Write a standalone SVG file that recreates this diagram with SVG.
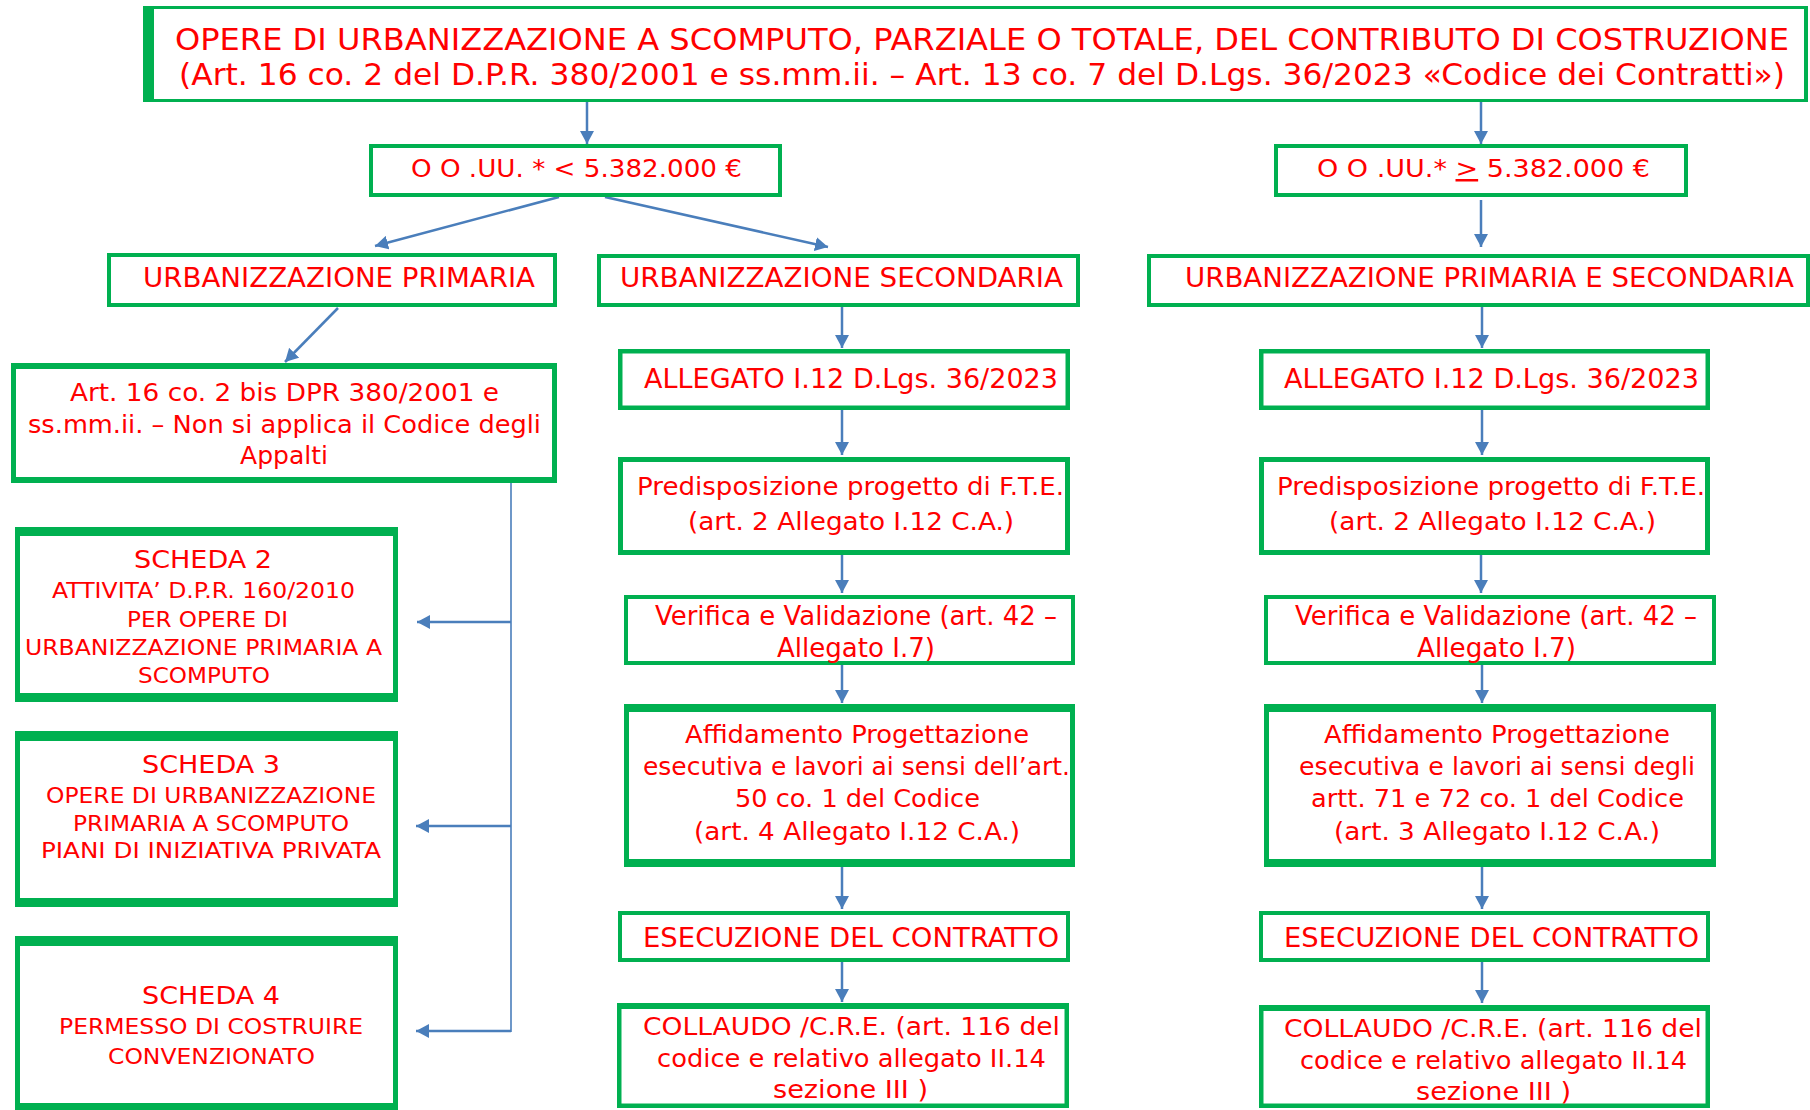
<svg xmlns="http://www.w3.org/2000/svg" width="1810" height="1110" viewBox="0 0 1810 1110">
<style>
.g{fill:#00B050}
.w{fill:#FFFFFF}
.t{font-family:"DejaVu Sans",Verdana,sans-serif;fill:#FF0000}
.c{stroke:#4A7EBB;stroke-width:2.5;fill:none}
.c1{stroke:#4A7EBB;stroke-width:1.6;fill:none}
</style>
<defs>
<marker id="ah" viewBox="0 0 13 14" refX="13" refY="7" markerWidth="13" markerHeight="14" markerUnits="userSpaceOnUse" orient="auto">
<path d="M0,0 L13,7 L0,14 z" fill="#4A7EBB"/>
</marker>
</defs>
<rect x="0" y="0" width="1810" height="1110" fill="#FFFFFF"/>

<g id="connectors">
<line class="c" x1="587" y1="102" x2="587" y2="144" marker-end="url(#ah)"/>
<line class="c" x1="1481" y1="102" x2="1481" y2="144" marker-end="url(#ah)"/>
<line class="c" x1="559" y1="197" x2="375" y2="246" marker-end="url(#ah)"/>
<line class="c" x1="605" y1="197" x2="828" y2="247" marker-end="url(#ah)"/>
<line class="c" x1="1481" y1="200" x2="1481" y2="247" marker-end="url(#ah)"/>
<line class="c" x1="338" y1="308" x2="285" y2="362" marker-end="url(#ah)"/>
<line class="c" x1="842" y1="307" x2="842" y2="348" marker-end="url(#ah)"/>
<line class="c" x1="842" y1="410" x2="842" y2="455" marker-end="url(#ah)"/>
<line class="c" x1="842" y1="555" x2="842" y2="593" marker-end="url(#ah)"/>
<line class="c" x1="842" y1="665" x2="842" y2="703" marker-end="url(#ah)"/>
<line class="c" x1="842" y1="867" x2="842" y2="909" marker-end="url(#ah)"/>
<line class="c" x1="842" y1="962" x2="842" y2="1002" marker-end="url(#ah)"/>
<line class="c" x1="1482" y1="307" x2="1482" y2="348" marker-end="url(#ah)"/>
<line class="c" x1="1482" y1="410" x2="1482" y2="455" marker-end="url(#ah)"/>
<line class="c" x1="1481" y1="555" x2="1481" y2="593" marker-end="url(#ah)"/>
<line class="c" x1="1482" y1="665" x2="1482" y2="703" marker-end="url(#ah)"/>
<line class="c" x1="1482" y1="867" x2="1482" y2="909" marker-end="url(#ah)"/>
<line class="c" x1="1482" y1="962" x2="1482" y2="1003" marker-end="url(#ah)"/>
<line class="c1" x1="511" y1="483" x2="511" y2="1032"/>
<line class="c" x1="511" y1="622" x2="417" y2="622" marker-end="url(#ah)"/>
<line class="c" x1="511" y1="826" x2="416" y2="826" marker-end="url(#ah)"/>
<line class="c" x1="511" y1="1031" x2="416" y2="1031" marker-end="url(#ah)"/>
</g>

<g id="title">
<rect class="g" x="143" y="6" width="1665" height="96"/>
<rect class="w" x="154" y="9" width="1650" height="90"/>
<text class="t" font-size="30" x="175" y="50" textLength="1614" lengthAdjust="spacingAndGlyphs">OPERE DI URBANIZZAZIONE A SCOMPUTO, PARZIALE O TOTALE, DEL CONTRIBUTO DI COSTRUZIONE</text>
<text class="t" font-size="30" x="179" y="85" textLength="1606" lengthAdjust="spacingAndGlyphs">(Art. 16 co. 2 del D.P.R. 380/2001 e ss.mm.ii. – Art. 13 co. 7 del D.Lgs. 36/2023 «Codice dei Contratti»)</text>
</g>

<g id="oouu-low">
<rect class="g" x="369" y="144" width="413" height="53"/>
<rect class="w" x="373" y="148" width="405" height="45"/>
<text class="t" font-size="25" x="411" y="177" textLength="331" lengthAdjust="spacingAndGlyphs">O O .UU. * &lt; 5.382.000 €</text>
</g>

<g id="oouu-high">
<rect class="g" x="1274" y="144" width="414" height="53"/>
<rect class="w" x="1278" y="148" width="406" height="45"/>
<text class="t" font-size="25" x="1317" y="177" textLength="333" lengthAdjust="spacingAndGlyphs">O O .UU.* <tspan text-decoration="underline">&gt;</tspan> 5.382.000 €</text>
</g>

<g id="urb-primaria">
<rect class="g" x="107" y="253" width="450" height="54"/>
<rect class="w" x="111" y="257" width="442" height="46"/>
<text class="t" font-size="26" x="143" y="287" textLength="392" lengthAdjust="spacingAndGlyphs">URBANIZZAZIONE PRIMARIA</text>
</g>

<g id="urb-secondaria">
<rect class="g" x="597" y="254" width="483" height="53"/>
<rect class="w" x="601" y="258" width="475" height="45"/>
<text class="t" font-size="26" x="620" y="287" textLength="443" lengthAdjust="spacingAndGlyphs">URBANIZZAZIONE SECONDARIA</text>
</g>

<g id="urb-prim-sec">
<rect class="g" x="1147" y="254" width="663" height="53"/>
<rect class="w" x="1151" y="258" width="655" height="45"/>
<text class="t" font-size="26" x="1185" y="287" textLength="609" lengthAdjust="spacingAndGlyphs">URBANIZZAZIONE PRIMARIA E SECONDARIA</text>
</g>

<g id="art16">
<rect class="g" x="11" y="363" width="546" height="120"/>
<rect class="w" x="16" y="369" width="536" height="108"/>
<text class="t" font-size="24" x="70" y="401" textLength="429" lengthAdjust="spacingAndGlyphs">Art. 16 co. 2 bis DPR 380/2001 e</text>
<text class="t" font-size="24" x="28" y="433" textLength="513" lengthAdjust="spacingAndGlyphs">ss.mm.ii. – Non si applica il Codice degli</text>
<text class="t" font-size="24" x="240" y="464" textLength="88" lengthAdjust="spacingAndGlyphs">Appalti</text>
</g>

<g id="scheda2">
<rect class="g" x="15" y="527" width="383" height="175"/>
<rect class="w" x="20" y="536" width="373" height="157"/>
<text class="t" font-size="25" x="134" y="568" textLength="138" lengthAdjust="spacingAndGlyphs">SCHEDA 2</text>
<text class="t" font-size="21.5" x="52" y="598" textLength="303" lengthAdjust="spacingAndGlyphs">ATTIVITA’ D.P.R. 160/2010</text>
<text class="t" font-size="21.5" x="127" y="627" textLength="161" lengthAdjust="spacingAndGlyphs">PER OPERE DI</text>
<text class="t" font-size="21.5" x="25" y="655" textLength="357" lengthAdjust="spacingAndGlyphs">URBANIZZAZIONE PRIMARIA A</text>
<text class="t" font-size="21.5" x="138" y="683" textLength="132" lengthAdjust="spacingAndGlyphs">SCOMPUTO</text>
</g>

<g id="scheda3">
<rect class="g" x="15" y="731" width="383" height="176"/>
<rect class="w" x="20" y="741" width="373" height="157"/>
<text class="t" font-size="25" x="142" y="773" textLength="138" lengthAdjust="spacingAndGlyphs">SCHEDA 3</text>
<text class="t" font-size="22" x="46" y="803" textLength="330" lengthAdjust="spacingAndGlyphs">OPERE DI URBANIZZAZIONE</text>
<text class="t" font-size="22" x="73" y="831" textLength="276" lengthAdjust="spacingAndGlyphs">PRIMARIA A SCOMPUTO</text>
<text class="t" font-size="22" x="41" y="858" textLength="340" lengthAdjust="spacingAndGlyphs">PIANI DI INIZIATIVA PRIVATA</text>
</g>

<g id="scheda4">
<rect class="g" x="15" y="936" width="383" height="174"/>
<rect class="w" x="20" y="946" width="373" height="157"/>
<text class="t" font-size="25" x="142" y="1004" textLength="138" lengthAdjust="spacingAndGlyphs">SCHEDA 4</text>
<text class="t" font-size="22" x="59" y="1034" textLength="304" lengthAdjust="spacingAndGlyphs">PERMESSO DI COSTRUIRE</text>
<text class="t" font-size="22" x="108" y="1064" textLength="207" lengthAdjust="spacingAndGlyphs">CONVENZIONATO</text>
</g>

<g id="allegato-l">
<rect class="g" x="618" y="349" width="452" height="61"/>
<rect class="w" x="622.5" y="353.5" width="443" height="52"/>
<text class="t" font-size="26" x="644" y="388" textLength="414" lengthAdjust="spacingAndGlyphs">ALLEGATO I.12 D.Lgs. 36/2023</text>
</g>

<g id="allegato-r">
<rect class="g" x="1259" y="349" width="451" height="61"/>
<rect class="w" x="1263.5" y="353.5" width="442" height="52"/>
<text class="t" font-size="26" x="1284" y="388" textLength="415" lengthAdjust="spacingAndGlyphs">ALLEGATO I.12 D.Lgs. 36/2023</text>
</g>

<g id="fte-l">
<rect class="g" x="618" y="457" width="452" height="98"/>
<rect class="w" x="623" y="462" width="442" height="88"/>
<text class="t" font-size="25" x="637" y="495" textLength="427" lengthAdjust="spacingAndGlyphs">Predisposizione progetto di F.T.E.</text>
<text class="t" font-size="25" x="688" y="530" textLength="326" lengthAdjust="spacingAndGlyphs">(art. 2 Allegato I.12 C.A.)</text>
</g>

<g id="fte-r">
<rect class="g" x="1259" y="457" width="451" height="98"/>
<rect class="w" x="1264" y="462" width="441" height="88"/>
<text class="t" font-size="25" x="1277" y="495" textLength="428" lengthAdjust="spacingAndGlyphs">Predisposizione progetto di F.T.E.</text>
<text class="t" font-size="25" x="1329" y="530" textLength="327" lengthAdjust="spacingAndGlyphs">(art. 2 Allegato I.12 C.A.)</text>
</g>

<g id="verifica-l">
<rect class="g" x="624" y="595" width="451" height="70"/>
<rect class="w" x="628" y="599" width="443" height="62"/>
<text class="t" font-size="26" x="655" y="625" textLength="402" lengthAdjust="spacingAndGlyphs">Verifica e Validazione (art. 42 –</text>
<text class="t" font-size="26" x="777" y="657" textLength="158" lengthAdjust="spacingAndGlyphs">Allegato I.7)</text>
</g>

<g id="verifica-r">
<rect class="g" x="1264" y="595" width="452" height="70"/>
<rect class="w" x="1268" y="599" width="444" height="62"/>
<text class="t" font-size="26" x="1295" y="625" textLength="402" lengthAdjust="spacingAndGlyphs">Verifica e Validazione (art. 42 –</text>
<text class="t" font-size="26" x="1417" y="657" textLength="159" lengthAdjust="spacingAndGlyphs">Allegato I.7)</text>
</g>

<g id="affidamento-l">
<rect class="g" x="624" y="704" width="451" height="163"/>
<rect class="w" x="629" y="712" width="441" height="147"/>
<text class="t" font-size="25" x="685" y="743" textLength="344" lengthAdjust="spacingAndGlyphs">Affidamento Progettazione</text>
<text class="t" font-size="25" x="643" y="775" textLength="427" lengthAdjust="spacingAndGlyphs">esecutiva e lavori ai sensi dell’art.</text>
<text class="t" font-size="25" x="735" y="807" textLength="245" lengthAdjust="spacingAndGlyphs">50 co. 1 del Codice</text>
<text class="t" font-size="25" x="694" y="840" textLength="326" lengthAdjust="spacingAndGlyphs">(art. 4 Allegato I.12 C.A.)</text>
</g>

<g id="affidamento-r">
<rect class="g" x="1264" y="704" width="452" height="163"/>
<rect class="w" x="1269" y="712" width="442" height="147"/>
<text class="t" font-size="25" x="1324" y="743" textLength="346" lengthAdjust="spacingAndGlyphs">Affidamento Progettazione</text>
<text class="t" font-size="25" x="1299" y="775" textLength="396" lengthAdjust="spacingAndGlyphs">esecutiva e lavori ai sensi degli</text>
<text class="t" font-size="25" x="1311" y="807" textLength="373" lengthAdjust="spacingAndGlyphs">artt. 71 e 72 co. 1 del Codice</text>
<text class="t" font-size="25" x="1334" y="840" textLength="326" lengthAdjust="spacingAndGlyphs">(art. 3 Allegato I.12 C.A.)</text>
</g>

<g id="esecuzione-l">
<rect class="g" x="618" y="911" width="452" height="51"/>
<rect class="w" x="622" y="915" width="444" height="43"/>
<text class="t" font-size="26" x="643" y="947" textLength="416" lengthAdjust="spacingAndGlyphs">ESECUZIONE DEL CONTRATTO</text>
</g>

<g id="esecuzione-r">
<rect class="g" x="1259" y="911" width="451" height="51"/>
<rect class="w" x="1263" y="915" width="443" height="43"/>
<text class="t" font-size="26" x="1284" y="947" textLength="415" lengthAdjust="spacingAndGlyphs">ESECUZIONE DEL CONTRATTO</text>
</g>

<g id="collaudo-l">
<rect class="g" x="617" y="1003" width="452" height="105"/>
<rect class="w" x="621.5" y="1009" width="443" height="94.5"/>
<text class="t" font-size="25" x="643" y="1035" textLength="417" lengthAdjust="spacingAndGlyphs">COLLAUDO /C.R.E. (art. 116 del</text>
<text class="t" font-size="25" x="657" y="1067" textLength="389" lengthAdjust="spacingAndGlyphs">codice e relativo allegato II.14</text>
<text class="t" font-size="25" x="773" y="1098" textLength="155" lengthAdjust="spacingAndGlyphs">sezione III )</text>
</g>

<g id="collaudo-r">
<rect class="g" x="1259" y="1005" width="451" height="103"/>
<rect class="w" x="1263.5" y="1011" width="442" height="92.5"/>
<text class="t" font-size="25" x="1284" y="1037" textLength="418" lengthAdjust="spacingAndGlyphs">COLLAUDO /C.R.E. (art. 116 del</text>
<text class="t" font-size="25" x="1300" y="1069" textLength="387" lengthAdjust="spacingAndGlyphs">codice e relativo allegato II.14</text>
<text class="t" font-size="25" x="1416" y="1100" textLength="155" lengthAdjust="spacingAndGlyphs">sezione III )</text>
</g>
</svg>
